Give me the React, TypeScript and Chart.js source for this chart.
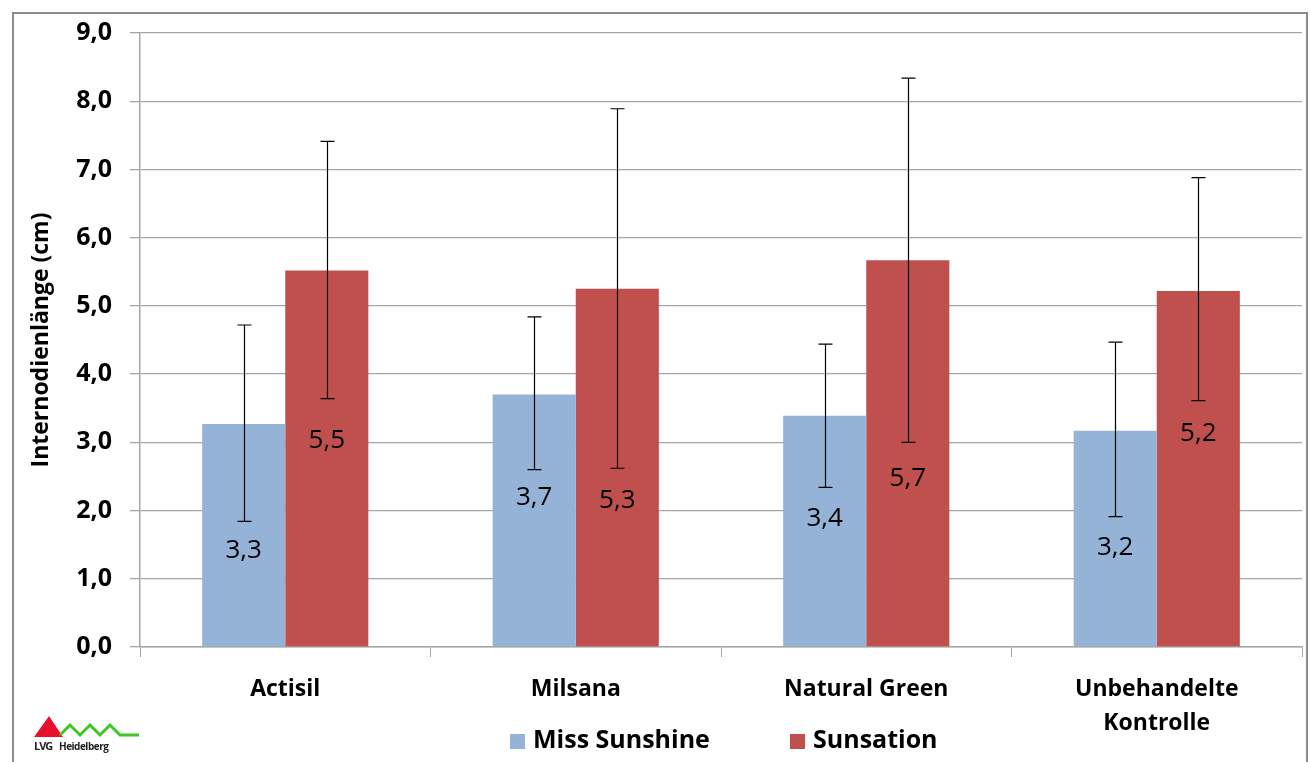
import React, { useEffect, useRef } from "react";
import { Chart, registerables } from "chart.js";
Chart.register(...registerables);

const categories: string[][] = [["Actisil"], ["Milsana"], ["Natural Green"], ["Unbehandelte", "Kontrolle"]];
const seriesNames = ["Miss Sunshine", "Sunsation"];
const seriesColors = ["#95B3D7", "#C0504D"];
const missSunshine = [3.27, 3.7, 3.39, 3.17];
const sunsation = [5.52, 5.25, 5.67, 5.22];
const missSunshineLow = [1.84, 2.6, 2.34, 1.91];
const missSunshineHigh = [4.72, 4.84, 4.44, 4.47];
const sunsationLow = [3.64, 2.62, 3.0, 3.61];
const sunsationHigh = [7.41, 7.89, 8.34, 6.88];
const missSunshineLabels = ["3,3", "3,7", "3,4", "3,2"];
const sunsationLabels = ["5,5", "5,3", "5,7", "5,2"];
const missSunshineLabelAt = [1.42, 2.19, 1.88, 1.45];
const sunsationLabelAt = [3.02, 2.15, 2.47, 3.13];
const yMin = 0;
const yMax = 9;
const yStep = 1;
const yTitle = "Internodienlänge (cm)";

const FONT = "'Open Sans', 'Noto Sans', sans-serif";

const lows = [missSunshineLow, sunsationLow];
const highs = [missSunshineHigh, sunsationHigh];
const labelTexts = [missSunshineLabels, sunsationLabels];
const labelAts = [missSunshineLabelAt, sunsationLabelAt];

const overlayPlugin = {
  id: "overlay",
  afterDatasetsDraw(chart: any) {
    const ctx = chart.ctx;
    const yScale = chart.scales.y;
    ctx.save();
    for (let d = 0; d < chart.data.datasets.length; d++) {
      const meta = chart.getDatasetMeta(d);
      meta.data.forEach((bar: any, j: number) => {
        const x = Math.round(bar.x) + 0.5;
        const yl = yScale.getPixelForValue(lows[d][j]);
        const yh = yScale.getPixelForValue(highs[d][j]);
        ctx.strokeStyle = "#000";
        ctx.lineWidth = 1.2;
        ctx.beginPath();
        ctx.moveTo(x, yl);
        ctx.lineTo(x, yh);
        ctx.moveTo(x - 7, yl);
        ctx.lineTo(x + 7, yl);
        ctx.moveTo(x - 7, yh);
        ctx.lineTo(x + 7, yh);
        ctx.stroke();
        ctx.fillStyle = "#000";
        ctx.font = `400 26px ${FONT}`;
        ctx.textAlign = "center";
        ctx.textBaseline = "middle";
        ctx.fillText(labelTexts[d][j], bar.x, yScale.getPixelForValue(labelAts[d][j]));
      });
    }
    ctx.restore();
  },
  afterDraw(chart: any) {
    const ctx = chart.ctx;
    ctx.save();
    // outer border
    ctx.strokeStyle = "#8c8c8c";
    ctx.lineWidth = 2;
    ctx.strokeRect(13, 13, 1294, 760);
    // legend
    const legendX = [510, 790];
    ctx.font = `700 25px ${FONT}`;
    ctx.textBaseline = "middle";
    ctx.textAlign = "left";
    seriesNames.forEach((n, i) => {
      ctx.fillStyle = seriesColors[i];
      ctx.fillRect(legendX[i], 734, 15, 15);
      ctx.fillStyle = "#000";
      ctx.fillText(n, legendX[i] + 23, 741);
    });
    // logo
    ctx.fillStyle = "#e8112d";
    ctx.beginPath();
    ctx.moveTo(34, 737);
    ctx.lineTo(49, 716);
    ctx.lineTo(63, 737);
    ctx.closePath();
    ctx.fill();
    ctx.strokeStyle = "#3cc81e";
    ctx.lineWidth = 3;
    ctx.beginPath();
    ctx.moveTo(60, 735);
    ctx.lineTo(70, 725);
    ctx.lineTo(80, 735);
    ctx.lineTo(90, 725);
    ctx.lineTo(100, 735);
    ctx.lineTo(110, 725);
    ctx.lineTo(120, 735);
    ctx.lineTo(139, 735);
    ctx.stroke();
    ctx.fillStyle = "#222";
    ctx.font = `700 11px ${FONT}`;
    ctx.textAlign = "left";
    ctx.letterSpacing = "-1px";
    ctx.fillText("LVG", 34, 747);
    ctx.font = `700 10px ${FONT}`;
    ctx.letterSpacing = "-0.5px";
    ctx.fillText("Heidelberg", 59, 747);
    ctx.restore();
  },
};

export default function App() {
  const ref = useRef<HTMLCanvasElement>(null);
  useEffect(() => {
    document.body.style.margin = "0";
    const chart = new Chart(ref.current!, {
      type: "bar",
      data: {
        labels: categories as any,
        datasets: [
          { label: seriesNames[0], data: missSunshine, backgroundColor: seriesColors[0], categoryPercentage: 0.572, barPercentage: 1 },
          { label: seriesNames[1], data: sunsation, backgroundColor: seriesColors[1], categoryPercentage: 0.572, barPercentage: 1 },
        ],
      },
      options: {
        animation: false,
        responsive: false,
        maintainAspectRatio: false,
        layout: { padding: { left: 0, right: 8, top: 31, bottom: 0 } },
        plugins: { legend: { display: false }, tooltip: { enabled: false } },
        scales: {
          x: {
            afterFit: (s: any) => { s.height = 115; },
            grid: { offset: true, drawOnChartArea: false, drawTicks: true, tickLength: 10, color: "#a6a6a6" },
            border: { color: "#a6a6a6", width: 1.5 },
            ticks: { color: "#000", font: { family: FONT, size: 23, weight: "bold", lineHeight: 1.45 }, padding: 16, maxRotation: 0, autoSkip: false },
          },
          y: {
            min: yMin,
            max: yMax,
            afterFit: (s: any) => { s.width = 140; },
            grid: { color: "#a6a6a6", lineWidth: 1.3, tickLength: 10 },
            border: { color: "#a6a6a6", width: 1.5 },
            ticks: {
              stepSize: yStep,
              color: "#000",
              padding: 18,
              font: { family: FONT, size: 25, weight: "bold" },
              callback: (v: any) => Number(v).toFixed(1).replace(".", ","),
            },
            title: { display: true, text: yTitle, color: "#000", font: { family: FONT, size: 23, weight: "bold" }, padding: { top: 28, bottom: 0 } },
          },
        },
      },
      plugins: [overlayPlugin],
    } as any);
    return () => chart.destroy();
  }, []);
  return (
    <div style={{ position: "absolute", left: 0, top: 0, width: 1310, height: 762 }}>
      <canvas ref={ref} width={1310} height={762} style={{ width: 1310, height: 762 }} />
    </div>
  );
}
